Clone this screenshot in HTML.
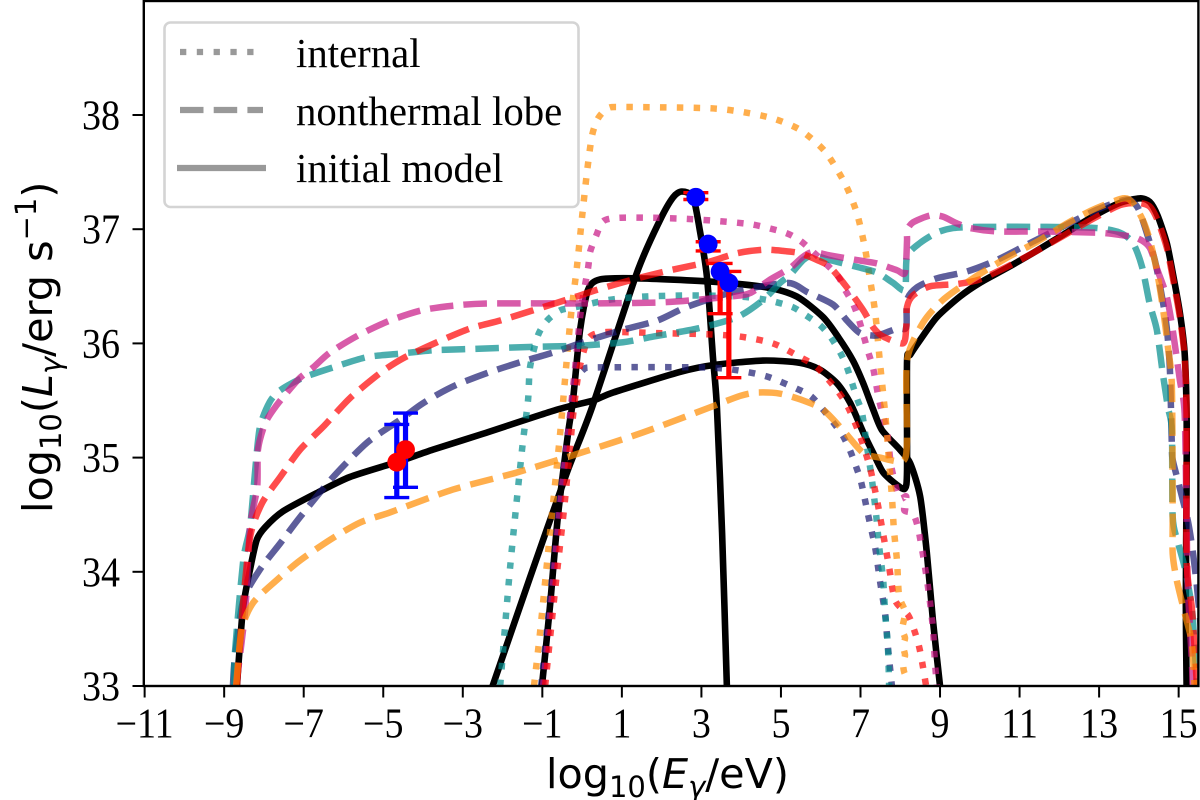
<!DOCTYPE html>
<html>
<head>
<meta charset="utf-8">
<title>Luminosity spectrum</title>
<style>
html,body{margin:0;padding:0;background:#fff;}
svg{display:block;}
.tick-text{font-family:"Liberation Serif",serif;font-size:40px;fill:#000;}
.legend-text{font-family:"Liberation Serif",serif;font-size:40.8px;fill:#000;}
.axis-title{font-family:"DejaVu Sans",sans-serif;font-size:41.3px;fill:#000;}
</style>
</head>
<body>
<svg id="chart" xmlns="http://www.w3.org/2000/svg" width="1200" height="800" viewBox="0 0 1200 800">
  <defs><clipPath id="plot-clip"><rect x="144.6" y="1" width="1053.6" height="685"/></clipPath></defs>
  <rect x="0" y="0" width="1200" height="800" fill="#fff"/>
  <g id="series-layer" clip-path="url(#plot-clip)"></g>
  <g id="points-layer"></g>
  <g id="axis-layer"></g>
  <text class="axis-title" x="546" y="788">log<tspan font-size="29" dy="9">10</tspan><tspan dy="-9">(</tspan><tspan font-style="italic">E</tspan><tspan font-size="29" font-style="italic" dy="9">γ</tspan><tspan dy="-9">/eV)</tspan></text>
  <text class="axis-title" transform="translate(52,513) rotate(-90)">log<tspan font-size="29" dy="9">10</tspan><tspan dy="-9">(</tspan><tspan font-style="italic">L</tspan><tspan font-size="29" font-style="italic" dy="9">γ</tspan><tspan dy="-9">/erg s</tspan><tspan font-size="29" dy="-16">−1</tspan><tspan dy="16">)</tspan></text>
  <g>
    <rect x="164.5" y="22.5" width="414" height="184.5" rx="6" ry="6" fill="#fff" fill-opacity="0.8" stroke="#d4d4d4" stroke-width="2.6"/>
    <line x1="180" y1="52" x2="254" y2="52" stroke="#999" stroke-width="6.3" stroke-dasharray="6.3 10.5"/>
    <line x1="180" y1="110" x2="263" y2="110" stroke="#999" stroke-width="6.3" stroke-dasharray="23.5 10.2"/>
    <line x1="177" y1="168" x2="266" y2="168" stroke="#999" stroke-width="6.3"/>
    <text class="legend-text" x="296" y="67">internal</text>
    <text class="legend-text" x="296" y="125">nonthermal lobe</text>
    <text class="legend-text" x="296" y="182">initial model</text>
  </g>
</svg>
<script>
const xTickValues=[-11,-9,-7,-5,-3,-1,1,3,5,7,9,11,13,15];
const yTickValues=[33,34,35,36,37,38];

const initialLowX=[-8.68,-8.53,-8.35,-8.18,-7.97,-7.52,-6.67,-5.84,-4.66,-3.75,-2.57,-0.63,0.28,0.78,2.46,3.29,4.55,5.48,5.98,6.41,6.74,7.07,7.32,7.57,7.92,8.12,8.17,8.17,8.25,8.5,8.92,9.5,10.0,10.68,11.33,12.09,12.84,13.52,14.02,14.27,14.47,14.7,14.85,15.03,15.15,15.2,15.2,15.18,15.2];
const initialLowY=[33,33.67,34.02,34.28,34.39,34.53,34.69,34.83,34.96,35.07,35.2,35.42,35.5,35.57,35.75,35.81,35.85,35.83,35.77,35.65,35.48,35.22,35.04,34.87,34.76,34.73,34.89,35.84,35.9,36.03,36.23,36.41,36.53,36.66,36.79,36.95,37.11,37.23,37.27,37.24,37.12,36.88,36.62,36.27,35.92,35.39,34.8,33.75,33];
const initialMidX=[-1.01,-0.81,-0.61,-0.35,-0.23,-0.05,0.15,0.45,1.38,3.29,4.65,5.4,6.06,6.45,6.81,7.07,7.32,7.54,7.99,8.25,8.5,8.67,8.82,9.0];
const initialMidY=[33,33.69,34.48,35.22,35.5,36.12,36.47,36.56,36.57,36.54,36.49,36.41,36.23,36.05,35.85,35.65,35.42,35.24,35.07,34.95,34.66,34.16,33.58,33];
const initialPeakX=[-2.25,-1.31,-0.38,0.25,1.38,1.96,2.29,2.51,2.79,2.96,3.14,3.29,3.39,3.52,3.64];
const initialPeakY=[33,33.95,34.87,35.44,36.62,37.08,37.28,37.33,37.28,36.99,36.58,35.88,35.44,34.34,33];

const internalNavyX=[-1.03,-0.83,-0.6,-0.3,-0.18,0.03,0.38,2.97,3.8,4.65,5.48,5.78,6.06,6.31,6.56,6.74,6.89,7.02,7.19,7.37,7.49,7.62,7.69,7.79];
const internalNavyY=[33,33.67,34.54,35.36,35.65,35.77,35.79,35.79,35.77,35.71,35.59,35.53,35.42,35.31,35.19,35.06,34.92,34.78,34.5,34.21,33.92,33.63,33.34,33];
const internalTealX=[-2.06,-1.81,-1.51,-1.36,-1.31,-1.11,-0.88,-0.55,-0.13,0.65,1.53,2.79,3.97,4.65,5.28,5.61,5.98,6.24,6.49,6.66,6.91,7.04,7.17,7.29,7.39,7.47,7.57,7.62,7.69,7.72];
const internalTealY=[33,34.04,35.07,35.5,35.79,36.07,36.2,36.29,36.32,36.38,36.41,36.42,36.41,36.38,36.32,36.25,36.16,36.06,35.92,35.79,35.52,35.39,35.08,34.8,34.51,34.22,33.93,33.64,33.34,33];
const internalMagentaX=[-0.98,-0.78,-0.58,-0.35,-0.18,-0.03,0.15,0.2,0.35,0.53,0.91,1.79,2.64,3.47,4.3,5.1,5.48,5.81,6.41,6.61,6.81,6.96,7.19,7.32,7.47,7.67,7.77,7.97,8.15,8.1,8.32,8.45,8.6,8.72,8.82,8.87,8.92];
const internalMagentaY=[33,33.7,34.48,35.22,35.77,36.29,36.66,36.8,36.94,37.07,37.1,37.1,37.09,37.07,37.04,36.97,36.9,36.8,36.6,36.47,36.35,36.21,35.93,35.78,35.5,35.22,34.93,34.65,34.66,34.54,34.51,34.38,34.09,33.81,33.51,33.22,33];
const internalRedX=[-0.93,-0.68,-0.43,-0.23,-0.1,0.03,0.2,0.63,1.89,3.14,3.97,4.8,5.48,5.91,6.41,6.69,6.99,7.24,7.42,7.57,7.72,7.87,8.2,8.35,8.47,8.55,8.65];
const internalRedY=[33,33.84,34.63,35.36,35.72,35.92,36.06,36.1,36.09,36.08,36.06,36.0,35.88,35.79,35.59,35.44,35.19,34.91,34.62,34.33,34.04,33.75,33.62,33.49,33.35,33.21,33];
const internalOrangeX=[-1.21,-1.06,-0.85,-0.55,-0.3,-0.13,0,0.13,0.25,0.4,0.65,1.03,3.14,3.97,4.8,5.48,6.11,6.61,6.91,7.11,7.24,7.37,7.49,7.62,7.69,7.79,7.84,7.92,7.97,8.12,8.05,8.12,8.07,8.12,8.07,8.1,8.2];
const internalOrangeY=[33,33.46,34.19,35.22,36.18,36.67,37.11,37.52,37.82,37.97,38.06,38.07,38.06,38.03,37.97,37.87,37.68,37.4,37.14,36.84,36.56,36.27,35.83,35.39,35.09,34.66,34.37,34.09,33.79,33.65,33.5,33.42,33.35,33.27,33.2,33.12,33.05];

const lobeNavyX=[-8.78,-8.73,-8.52,-8.1,-7.59,-7.09,-6.26,-5.41,-4.58,-4.07,-3.65,-3.14,-2.31,-1.51,-0.73,0.2,1.03,1.89,2.64,3.8,5.15,5.66,6.31,6.66,6.99,7.42,7.92,8.15,8.17,8.42,8.92,9.68,10.43,11.33,12.19,12.94,13.7,13.97,14.15,14.4,14.58,14.7,14.78,14.83,14.85,14.98,15.23,15.35,15.46,15.61];
const lobeNavyY=[33,33.25,33.75,34.02,34.25,34.48,34.83,35.13,35.33,35.46,35.55,35.64,35.75,35.84,35.92,36.03,36.12,36.2,36.32,36.45,36.53,36.45,36.34,36.2,36.09,36.07,36.13,36.14,36.38,36.49,36.57,36.63,36.73,36.89,37.04,37.17,37.26,37.19,37.02,36.73,36.41,36.14,35.77,35.09,34.98,34.8,34.45,34.19,33.87,33.32];
const lobeTealX=[-8.75,-8.73,-8.52,-8.35,-8.22,-8.1,-7.85,-7.59,-7.01,-6.26,-5.41,-4.58,-3.75,-2.89,-1.23,-0.05,1.03,1.79,2.89,3.9,4.55,4.98,5.23,5.56,5.81,6.23,6.91,7.42,7.82,8.12,8.17,8.5,8.92,9.33,10.0,11.69,12.94,13.52,13.85,14.08,14.27,14.45,14.6,14.73,14.83,14.85,14.98,15.15,15.33,15.4,15.46];
const lobeTealY=[33,33.29,34.1,34.39,34.89,35.27,35.49,35.59,35.7,35.79,35.88,35.91,35.94,35.95,35.97,35.98,36.01,36.06,36.13,36.23,36.38,36.53,36.6,36.73,36.77,36.73,36.67,36.62,36.53,36.47,36.76,36.88,36.97,37.01,37.02,37.02,37.01,36.97,36.88,36.67,36.35,36.12,35.74,35.44,35.24,34.48,34.26,34.04,33.69,33.34,33];
const lobeMagentaX=[-8.7,-8.47,-8.35,-8.17,-8.15,-7.97,-7.72,-7.42,-7.09,-6.76,-6.34,-5.63,-4.83,-4.03,-3.25,-2.36,0,2.04,3.72,4.22,4.73,5.23,5.56,5.81,6.23,6.91,7.42,7.92,8.12,8.17,8.17,8.32,8.75,9.07,9.43,9.76,10.43,11.51,12.94,13.52,13.97,14.27,14.47,14.7,14.85,15.03,15.15,15.2,15.23,15.33,15.35];
const lobeMagentaY=[33,33.67,34.39,34.74,35.07,35.3,35.44,35.57,35.7,35.79,35.92,36.07,36.2,36.29,36.33,36.35,36.35,36.36,36.41,36.44,36.56,36.66,36.76,36.8,36.77,36.73,36.7,36.64,36.62,36.9,36.99,37.06,37.12,37.11,37.05,37.01,36.98,36.98,36.97,36.95,36.92,36.84,36.64,36.41,36.12,35.68,35.39,34.45,33.87,33.23,33];
const lobeRedX=[-8.68,-8.56,-8.35,-8.05,-7.59,-7.09,-6.51,-5.84,-5.08,-4.5,-3.65,-2.82,-2.06,-1.23,-0.23,0.38,1.28,2.21,3.14,3.9,4.55,5.05,5.48,5.91,6.23,6.66,7.07,7.32,7.57,8.07,8.15,8.17,8.32,8.75,9.43,10.0,10.68,11.33,12.09,12.84,13.52,13.97,14.27,14.47,14.7,14.85,15.03,15.15,15.2,15.2,15.33,15.4,15.46];
const lobeRedY=[33,33.58,34.3,34.6,34.83,35.07,35.27,35.52,35.74,35.87,36.01,36.13,36.2,36.29,36.4,36.47,36.56,36.64,36.71,36.79,36.82,36.81,36.79,36.73,36.67,36.49,36.29,36.14,36.06,36.0,36.14,36.32,36.42,36.5,36.52,36.56,36.67,36.79,36.94,37.09,37.21,37.23,37.2,37.08,36.84,36.58,36.23,35.88,35.39,34.1,33.69,33.34,33];
const lobeOrangeX=[-8.7,-8.56,-8.27,-7.67,-7.09,-6.34,-5.59,-4.83,-3.25,-1.64,-0.05,1.53,3.14,3.97,4.4,4.98,5.56,6.06,6.56,7.07,7.49,8.07,8.17,8.17,8.57,9.07,9.83,10.68,11.44,12.19,12.84,13.6,13.85,14.1,14.27,14.45,14.6,14.73,14.83,14.85,14.85,14.95,15.15,15.33,15.4];
const lobeOrangeY=[33,33.49,33.73,33.93,34.1,34.28,34.43,34.52,34.72,34.87,35.04,35.22,35.43,35.54,35.57,35.56,35.5,35.42,35.24,35.04,35.0,34.97,35.15,35.85,36.18,36.38,36.57,36.75,36.89,37.05,37.17,37.27,37.23,37.08,36.91,36.64,36.32,35.97,35.62,34.51,34.16,33.93,33.64,33.38,33];

const radioEnergy=[-4.66,-4.44];
const radioLum=[34.96,35.07];
const radioErrUp=[0.33,0.32];
const radioErrDown=[0.31,0.33];
const xrayEnergy=[2.86,3.17,3.47,3.69];
const xrayLum=[37.28,36.87,36.63,36.53];
const xrayErrUp=[0.04,0.02,0.07,0.10];
const xrayErrDown=[0.02,0.06,0.37,0.83];

const xScale=v=>582.1+v*39.77;
const yScale=v=>686-(v-33)*114.2;
const NS='http://www.w3.org/2000/svg';
const seriesLayer=document.getElementById('series-layer');
const pointsLayer=document.getElementById('points-layer');
const axisLayer=document.getElementById('axis-layer');

function shape(parent,tag,attrs){
  const el=document.createElementNS(NS,tag);
  for(const k in attrs)el.setAttribute(k,attrs[k]);
  parent.appendChild(el);
  return el;
}
function curvePath(xs,ys){
  const p=xs.map((x,i)=>[xScale(x),yScale(ys[i])]);
  const k=1/8;
  let d='M'+p[0][0].toFixed(2)+' '+p[0][1].toFixed(2);
  for(let i=0;i<p.length-1;i++){
    const a=p[Math.max(i-1,0)],b=p[i],c=p[i+1],e=p[Math.min(i+2,p.length-1)];
    d+=' C'+(b[0]+(c[0]-a[0])*k).toFixed(2)+' '+(b[1]+(c[1]-a[1])*k).toFixed(2)+' '+(c[0]-(e[0]-b[0])*k).toFixed(2)+' '+(c[1]-(e[1]-b[1])*k).toFixed(2)+' '+c[0].toFixed(2)+' '+c[1].toFixed(2);
  }
  return d;
}
const DOT='6.5 10.3';
const DASH='23.5 10.2';
function drawSeries(name,xs,ys,color,opacity,dash,width){
  const el=shape(seriesLayer,'path',{d:curvePath(xs,ys),fill:'none',stroke:color,'stroke-width':width,'stroke-opacity':opacity,'stroke-linejoin':'round'});
  
  
  if(dash)el.setAttribute('stroke-dasharray',dash);
}
drawSeries('initial-model-low',initialLowX,initialLowY,'#000',1,null,6.6);
drawSeries('initial-model-mid',initialMidX,initialMidY,'#000',1,null,6.6);
drawSeries('initial-model-peak',initialPeakX,initialPeakY,'#000',1,null,6.6);
drawSeries('internal-navy',internalNavyX,internalNavyY,'#191970',0.7,DOT,6.5);
drawSeries('internal-teal',internalTealX,internalTealY,'#008b8b',0.7,DOT,6.5);
drawSeries('internal-magenta',internalMagentaX,internalMagentaY,'#c71585',0.7,DOT,6.5);
drawSeries('internal-red',internalRedX,internalRedY,'#ff0000',0.7,DOT,6.5);
drawSeries('internal-orange',internalOrangeX,internalOrangeY,'#ff8c00',0.7,DOT,6.5);
drawSeries('lobe-navy',lobeNavyX,lobeNavyY,'#191970',0.7,DASH,6.5);
drawSeries('lobe-teal',lobeTealX,lobeTealY,'#008b8b',0.7,DASH,6.5);
drawSeries('lobe-magenta',lobeMagentaX,lobeMagentaY,'#c71585',0.7,DASH,6.5);
drawSeries('lobe-red',lobeRedX,lobeRedY,'#ff0000',0.7,DASH,6.5);
drawSeries('lobe-orange',lobeOrangeX,lobeOrangeY,'#ff8c00',0.7,DASH,6.5);

function drawObservations(prefix,xs,ys,up,down,barColor,dotColor){
  xs.forEach((x,i)=>{
    const px=xScale(x),top=yScale(ys[i]+up[i]),bot=yScale(ys[i]-down[i]);
    const stem=shape(pointsLayer,'line',{x1:px,x2:px,y1:top,y2:bot,stroke:barColor,'stroke-width':5.2});
    
    
    [top,bot].forEach(cy=>{
      const cap=shape(pointsLayer,'line',{x1:px-12.5,x2:px+12.5,y1:cy,y2:cy,stroke:barColor,'stroke-width':3.4});
      
      
    });
  });
  xs.forEach((x,i)=>{
    const dot=shape(pointsLayer,'circle',{cx:xScale(x),cy:yScale(ys[i]),r:9.4,fill:dotColor});
    
    
  });
}
drawObservations('radio',radioEnergy,radioLum,radioErrUp,radioErrDown,'#0000ff','#ff0000');
drawObservations('xray',xrayEnergy,xrayLum,xrayErrUp,xrayErrDown,'#ff0000','#0000ff');

xTickValues.forEach(v=>{
  const t=shape(axisLayer,'line',{x1:xScale(v),x2:xScale(v),y1:686,y2:697.5,stroke:'#000','stroke-width':2});
  
  
  const l=shape(axisLayer,'text',{transform:'translate('+xScale(v)+',737.5) scale(0.95,1.05)','text-anchor':'middle',class:'tick-text'});
  
  
  l.textContent=(v<0?'\u2212':'')+Math.abs(v);
});
yTickValues.forEach(v=>{
  const t=shape(axisLayer,'line',{x1:132.5,x2:144.6,y1:yScale(v),y2:yScale(v),stroke:'#000','stroke-width':2});
  
  
  const l=shape(axisLayer,'text',{transform:'translate(120,'+(yScale(v)+14.5)+') scale(0.95,1.05)','text-anchor':'end',class:'tick-text'});
  
  
  l.textContent=String(v);
});
const frame=shape(axisLayer,'rect',{x:143.8,y:1,width:1054.6,height:685,fill:'none',stroke:'#000','stroke-width':2.4});


</script>
</body>
</html>
